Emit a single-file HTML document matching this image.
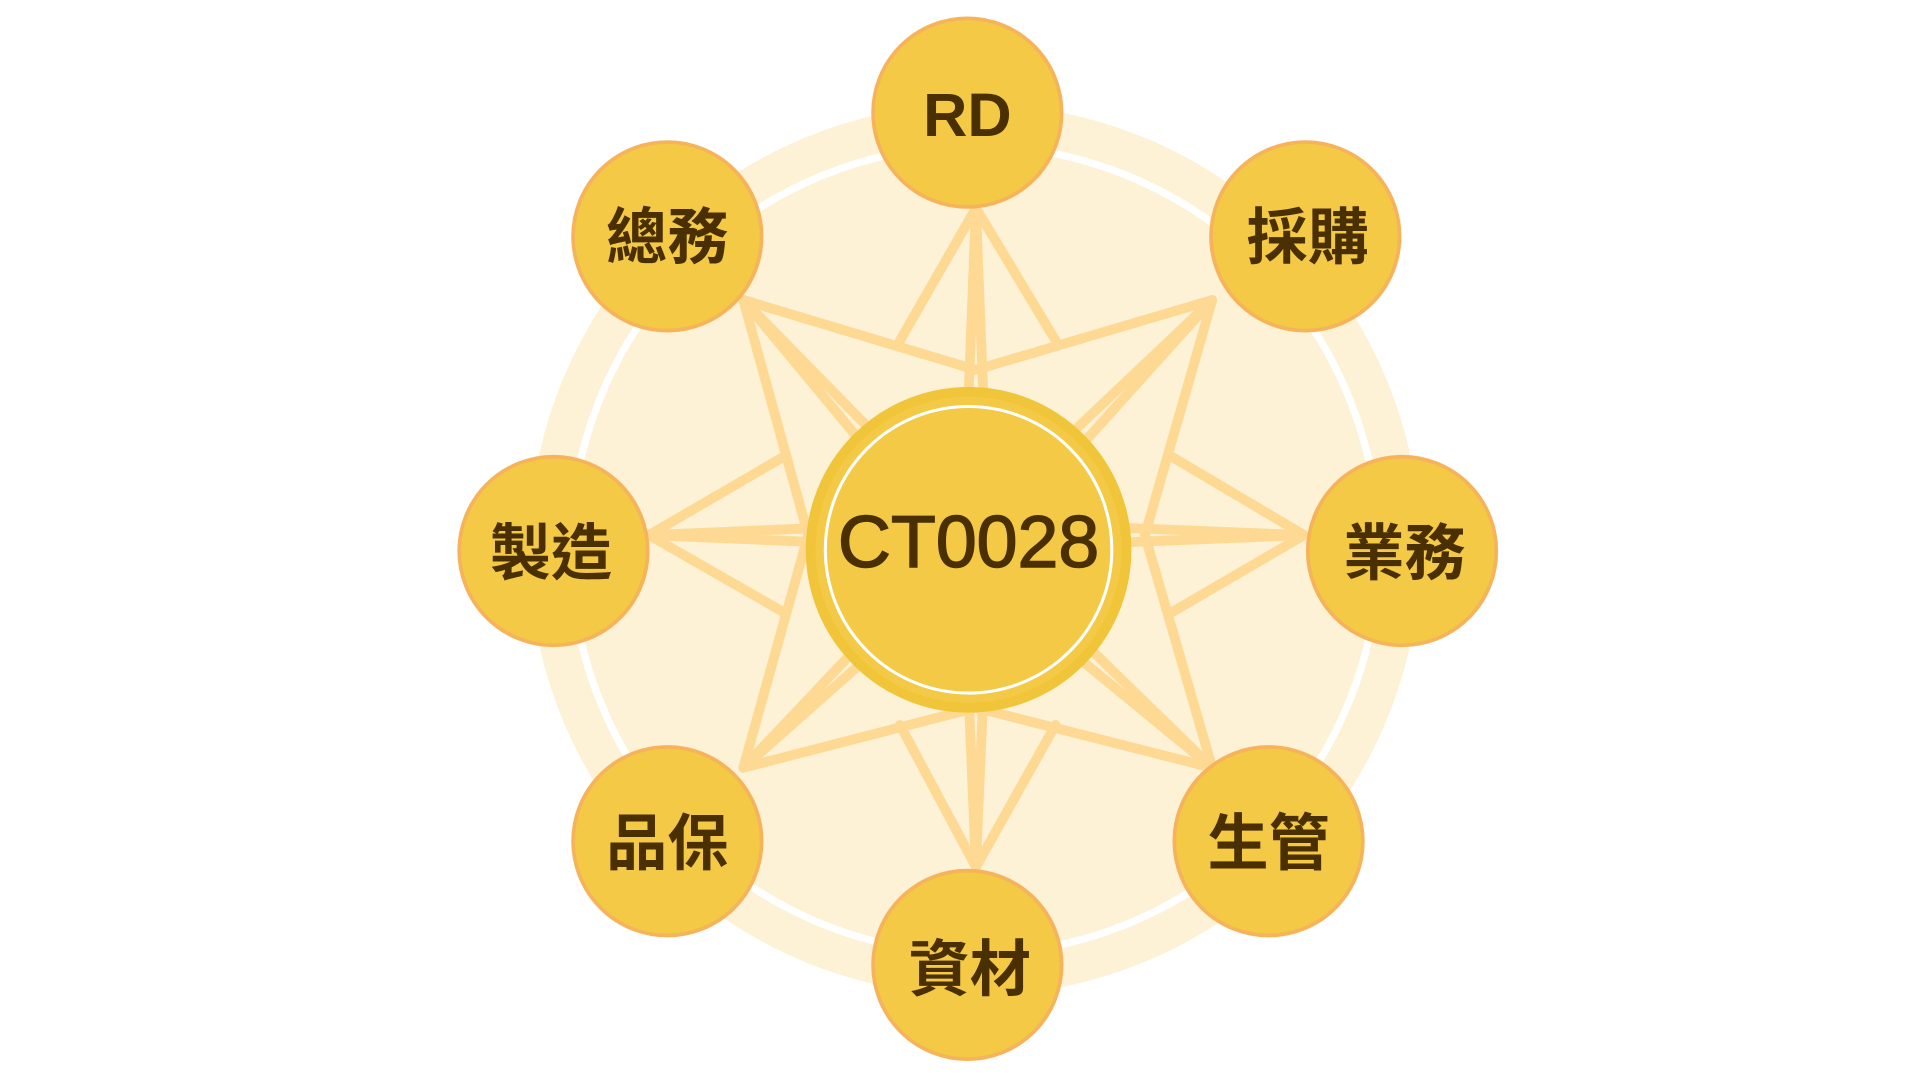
<!DOCTYPE html>
<html><head><meta charset="utf-8"><style>
html,body{margin:0;padding:0;background:#fff;width:1920px;height:1080px;overflow:hidden}
svg{display:block}
text{font-family:"Liberation Sans","Noto Sans CJK TC",sans-serif;font-weight:700;fill:#4a2f00}
</style></head><body>
<svg width="1920" height="1080" viewBox="0 0 1568 882" xmlns="http://www.w3.org/2000/svg">
<circle cx="796" cy="449" r="364" fill="#fdf1d6"/>
<circle cx="796" cy="449" r="330" fill="none" stroke="#fff" stroke-width="6"/>
<g fill="none" stroke="#fdd994" stroke-width="8" stroke-linejoin="round" stroke-linecap="round">
<polygon points="607,245 797,302 990,245 935,437 990,627 797,578 607,627 660,437"/>
<polyline points="735,278 797,170 862,278"/>
<polyline points="735,592 797,708 862,592"/>
<polyline points="640,373 530,437 640,500"/>
<polyline points="957,373 1065,437 957,500"/>
<polygon points="797,170 786,449 808,449"/>
<polygon points="797,708 786,449 808,449"/>
<polygon points="530,437 791,426 791,448"/>
<polygon points="1065,437 791,426 791,448"/>
<polygon points="607,245 783,457 799,441"/>
<polygon points="990,245 799,457 783,441"/>
<polygon points="607,627 799,457 783,441"/>
<polygon points="990,627 783,457 799,441"/>
</g>
<circle cx="791" cy="449" r="129" fill="#f4c945" stroke="#f0c53a" stroke-width="8"/>
<circle cx="791" cy="449" r="117" fill="none" stroke="#fff" stroke-width="2.5"/>
<text x="791" y="463" font-size="60" text-anchor="middle" style="font-family:'Liberation Sans','DejaVu Sans',sans-serif;font-weight:400;stroke:#4a2f00;stroke-width:1.2">CT0028</text>
<g fill="#f4c945" stroke="#f6b35a" stroke-width="3">
<circle cx="790" cy="92" r="77"/>
<circle cx="1066" cy="193" r="77"/>
<circle cx="1145" cy="450" r="77"/>
<circle cx="1036" cy="687" r="77"/>
<circle cx="790" cy="788" r="77"/>
<circle cx="545" cy="687" r="77"/>
<circle cx="452" cy="450" r="77"/>
<circle cx="545" cy="193" r="77"/>
</g>
<g font-size="50" text-anchor="middle">
<text x="790" y="111">RD</text>
<text x="1068" y="211">採購</text>
<text x="1147" y="469">業務</text>
<text x="1036" y="706">生管</text>
<text x="792" y="809">資材</text>
<text x="545" y="706">品保</text>
<text x="450" y="469">製造</text>
<text x="545" y="211">總務</text>
</g>
</svg>
</body></html>
